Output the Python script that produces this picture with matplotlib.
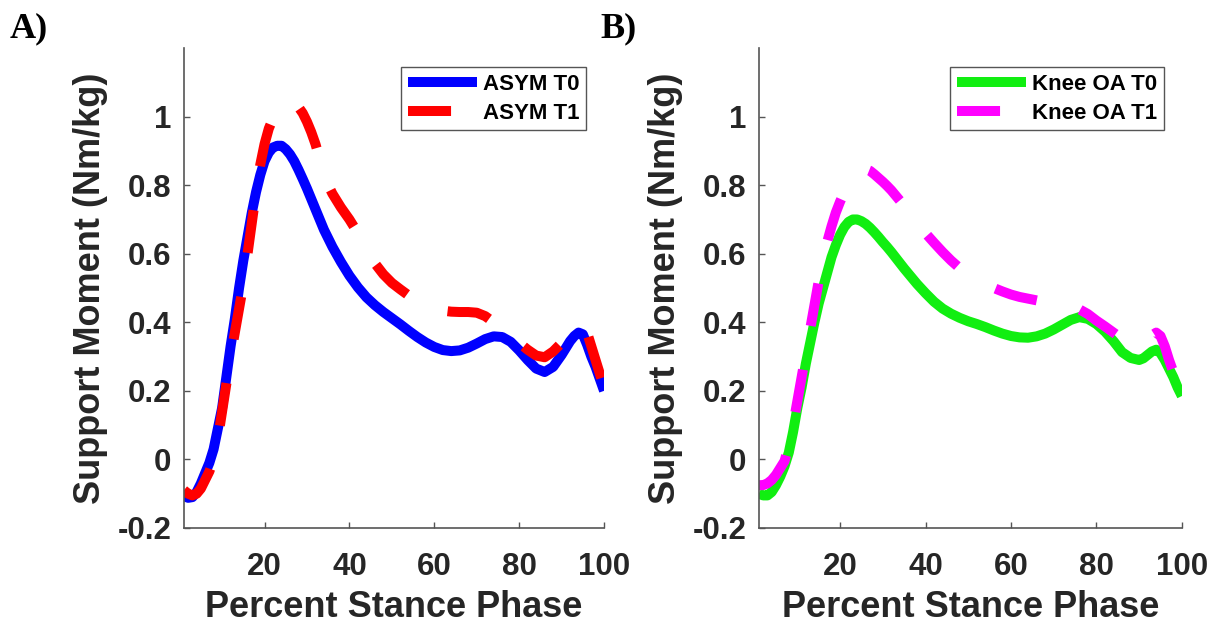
import numpy as np
import matplotlib.pyplot as plt

plt.rcParams['font.family'] = ['Liberation Sans', 'DejaVu Sans']
plt.rcParams['font.weight'] = 'bold'
plt.rcParams['axes.labelweight'] = 'bold'
plt.rcParams['lines.scale_dashes'] = False

# percent of stance phase (shared by all curves)
pct = [1, 2, 3, 4, 5, 6, 7, 8, 9, 10, 11, 12, 13, 14, 15, 16, 17, 18, 19, 20,
       21, 22, 23, 24, 25, 26, 27, 28, 29, 30, 31, 32, 33, 34, 35, 36, 38, 40,
       42, 44, 46, 48, 50, 52, 54, 56, 58, 60, 62, 64, 66, 68, 70, 72, 74, 76,
       78, 80, 82, 84, 86, 88, 90, 91, 92, 93, 94, 95, 96, 97, 98, 99, 100]

# support moment (Nm/kg)
asym_t0 = [-0.107, -0.112, -0.11, -0.095, -0.07, -0.04, -0.01, 0.03, 0.09, 0.15,
           0.24, 0.33, 0.41, 0.50, 0.58, 0.65, 0.72, 0.78, 0.83, 0.87,
           0.895, 0.91, 0.915, 0.915, 0.905, 0.89, 0.87, 0.845, 0.818, 0.79,
           0.76, 0.73, 0.70, 0.67, 0.645, 0.62, 0.576, 0.536,
           0.502, 0.473, 0.45, 0.43, 0.412, 0.394, 0.375, 0.357, 0.341, 0.328,
           0.319, 0.316, 0.318, 0.326, 0.338, 0.351, 0.359, 0.357, 0.343, 0.318,
           0.29, 0.265, 0.255, 0.27, 0.305, 0.325, 0.345, 0.36, 0.37, 0.365,
           0.335, 0.30, 0.27, 0.235, 0.20]
asym_t1 = [-0.09, -0.10, -0.105, -0.10, -0.085, -0.06, -0.035, 0.0, 0.06, 0.14,
           0.22, 0.30, 0.37, 0.44, 0.51, 0.60, 0.69, 0.78, 0.86, 0.92,
           0.965, 0.995, 1.017, 1.033, 1.042, 1.045, 1.04, 1.028, 1.01, 0.985,
           0.955, 0.92, 0.877, 0.835, 0.80, 0.775, 0.735, 0.70,
           0.66, 0.613, 0.572, 0.54, 0.515, 0.496, 0.478, 0.462, 0.449, 0.44,
           0.434, 0.431, 0.43, 0.43, 0.428, 0.418, 0.40, 0.38, 0.36, 0.34,
           0.32, 0.303, 0.298, 0.315, 0.34, 0.355, 0.37, 0.38, 0.39, 0.39,
           0.37, 0.33, 0.29, 0.25, 0.21]
oa_t0 = [-0.10, -0.105, -0.105, -0.095, -0.075, -0.05, -0.02, 0.02, 0.08, 0.15,
         0.21, 0.28, 0.34, 0.40, 0.455, 0.50, 0.545, 0.59, 0.625, 0.655,
         0.678, 0.693, 0.70, 0.70, 0.695, 0.687, 0.676, 0.663, 0.649, 0.634,
         0.62, 0.605, 0.589, 0.573, 0.557, 0.542, 0.512, 0.485,
         0.46, 0.44, 0.425, 0.413, 0.403, 0.395, 0.386, 0.376, 0.367, 0.36,
         0.356, 0.355, 0.359, 0.367, 0.379, 0.393, 0.407, 0.415, 0.41, 0.395,
         0.373, 0.345, 0.313, 0.296, 0.29, 0.295, 0.305, 0.315, 0.32, 0.31,
         0.29, 0.265, 0.24, 0.21, 0.185]
oa_t1 = [-0.075, -0.075, -0.07, -0.06, -0.045, -0.025, -0.005, 0.04, 0.10, 0.17,
         0.24, 0.31, 0.38, 0.45, 0.52, 0.585, 0.635, 0.68, 0.72, 0.752,
         0.78, 0.803, 0.822, 0.837, 0.845, 0.847, 0.842, 0.832, 0.821, 0.81,
         0.798, 0.785, 0.77, 0.755, 0.74, 0.725, 0.693, 0.66,
         0.632, 0.605, 0.58, 0.558, 0.54, 0.525, 0.512, 0.50, 0.49, 0.481,
         0.474, 0.469, 0.464, 0.459, 0.455, 0.45, 0.445, 0.438, 0.424, 0.405,
         0.388, 0.37, 0.352, 0.34, 0.336, 0.34, 0.35, 0.362, 0.37, 0.36,
         0.33, 0.29, 0.255, 0.22, 0.19]

yticks = [-0.2, 0, 0.2, 0.4, 0.6, 0.8, 1]
ytick_labels = ['-0.2', '0', '0.2', '0.4', '0.6', '0.8', '1']
xticks = [20, 40, 60, 80, 100]

panels = [
    ('A)', asym_t0, asym_t1, 'ASYM T0', 'ASYM T1', '#0000ff', '#ff0000'),
    ('B)', oa_t0, oa_t1, 'Knee OA T0', 'Knee OA T1', '#11ee11', '#ff00ff'),
]

fig = plt.figure(figsize=(12.26, 6.29), dpi=100)
ax_rects = [[0.150, 0.1606, 0.3427, 0.763], [0.619, 0.1606, 0.345, 0.763]]
tag_x = [10, 600]
dark = '#262626'

for rect, tx, (tag, base, follow, lab0, lab1, c0, c1) in zip(ax_rects, tag_x, panels):
    ax = fig.add_axes(rect)
    ax.plot(pct, base, color=c0, lw=7.2, solid_capstyle='butt', label=lab0)
    ax.plot(pct, follow, color=c1, lw=7.2, dashes=(31, 32),
            dash_capstyle='butt', label=lab1)
    ax.set_xlim(1, 100)
    ax.set_ylim(-0.2, 1.2)
    ax.set_xticks(xticks)
    ax.set_yticks(yticks)
    ax.set_yticklabels(ytick_labels)
    ax.tick_params(direction='in', length=4, width=1, colors='#555555',
                   labelcolor=dark, labelsize=22.5)
    ax.tick_params(axis='x', pad=17)
    ax.tick_params(axis='y', pad=9)
    for s in ['top', 'right']:
        ax.spines[s].set_visible(False)
    for s in ['left', 'bottom']:
        ax.spines[s].set_color('#555555')
        ax.spines[s].set_linewidth(1.2)
    ax.set_xlabel('Percent Stance Phase', fontsize=26, color=dark, labelpad=6)
    ax.set_ylabel('Support Moment (Nm/kg)', fontsize=26, color=dark, labelpad=7)
    leg = ax.legend(loc='upper right', bbox_to_anchor=(0.958, 0.96),
                    borderaxespad=0, fontsize=16, handlelength=3.1,
                    handletextpad=0.3, labelspacing=0.35, borderpad=0.3,
                    fancybox=False, framealpha=1)
    leg.get_frame().set_edgecolor('#555555')
    leg.get_frame().set_linewidth(1.0)
    for t in leg.get_texts():
        t.set_color('black')
    fig.text(tx / 1226, 1 - 37 / 629, tag, fontsize=26, fontweight='bold',
             family='Liberation Serif', color='black', va='baseline')

fig.savefig('out.png', dpi=100)
